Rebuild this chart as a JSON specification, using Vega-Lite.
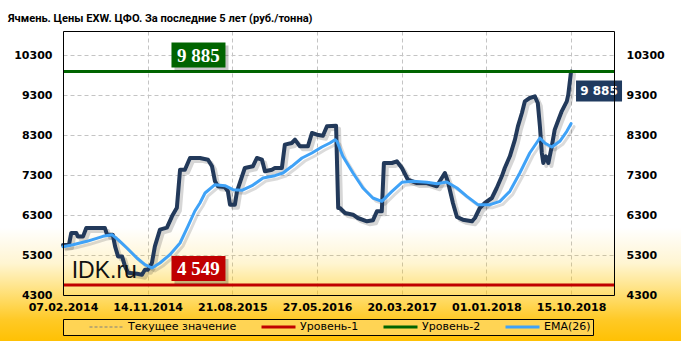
{
  "$schema": "https://vega.github.io/schema/vega-lite/v6.json",
  "width": 551,
  "height": 264,
  "autosize": {"type": "none"},
  "padding": {"left": 63, "top": 31, "right": 67, "bottom": 46},
  "background": "#ffffff",
  "title": {
    "text": "Ячмень. Цены EXW. ЦФО. За последние 5 лет (руб./тонна)",
    "anchor": "start", "frame": "group", "dx": -55, "offset": -2, "baseline": "alphabetic",
    "font": "Roboto", "fontSize": 11.1, "fontWeight": "bold", "color": "#000000"
  },
  "config": {
    "view": {"stroke": null},
    "axis": {
      "labelFont": "DejaVu Sans", "labelFontSize": 11, "labelFontWeight": "bold", "labelColor": "#000000",
      "ticks": false, "tickSize": 0, "title": null, "format": "d",
      "gridColor": "#c4c4c4", "gridDash": [4, 3], "gridWidth": 1,
      "domainColor": "#000000", "domainWidth": 1
    }
  },
  "datasets": {
    "price": [
      {"t":0,"v":5550},{"t":2.8,"v":5550},{"t":3.9,"v":5850},{"t":6.3,"v":5850},{"t":7,"v":5765},{"t":9.5,"v":5765},{"t":11,"v":5975},{"t":19.8,"v":5975},{"t":20.8,"v":5808},{"t":23.5,"v":5808},{"t":24.6,"v":5515},{"t":26,"v":5265},{"t":27.9,"v":5265},{"t":29.3,"v":5015},{"t":30.7,"v":4857},{"t":35,"v":4830},{"t":37.3,"v":4808},{"t":38.7,"v":4933},{"t":40.1,"v":4933},{"t":41.1,"v":5015},{"t":42,"v":5100},{"t":43.4,"v":5515},{"t":45.8,"v":5933},{"t":49.1,"v":5983},{"t":51.5,"v":6267},{"t":53.8,"v":6483},{"t":55.3,"v":7433},{"t":57.6,"v":7433},{"t":60,"v":7725},{"t":64.7,"v":7725},{"t":68.5,"v":7683},{"t":70.4,"v":7517},{"t":71.8,"v":7142},{"t":73.2,"v":7017},{"t":76.5,"v":7000},{"t":77.9,"v":6892},{"t":78.9,"v":6558},{"t":81.2,"v":6558},{"t":82.2,"v":6892},{"t":85.9,"v":7475},{"t":89.7,"v":7517},{"t":91.6,"v":7725},{"t":94,"v":7683},{"t":95.4,"v":7392},{"t":98.7,"v":7433},{"t":100.1,"v":7475},{"t":103.4,"v":7475},{"t":104.8,"v":8058},{"t":108.1,"v":8100},{"t":109.6,"v":8183},{"t":111.9,"v":8017},{"t":115.7,"v":8017},{"t":117.6,"v":8350},{"t":120,"v":8308},{"t":122.8,"v":8283},{"t":124.7,"v":8517},{"t":129,"v":8533},{"t":130,"v":6475},{"t":130.8,"v":6475},{"t":133.2,"v":6350},{"t":137,"v":6308},{"t":139.3,"v":6225},{"t":143.6,"v":6142},{"t":146.4,"v":6167},{"t":148.3,"v":6392},{"t":150.6,"v":6392},{"t":151.6,"v":7600},{"t":155.4,"v":7600},{"t":157.7,"v":7642},{"t":160.1,"v":7475},{"t":162.9,"v":7183},{"t":167.2,"v":7100},{"t":171.9,"v":7100},{"t":176.6,"v":7017},{"t":178,"v":7142},{"t":180.4,"v":7350},{"t":181.8,"v":7142},{"t":184.2,"v":6600},{"t":186.1,"v":6250},{"t":188.9,"v":6183},{"t":193.2,"v":6142},{"t":194.6,"v":6225},{"t":196.9,"v":6475},{"t":199.3,"v":6600},{"t":202.6,"v":6725},{"t":204.9,"v":6975},{"t":207.3,"v":7267},{"t":208.7,"v":7475},{"t":211.1,"v":7767},{"t":213.5,"v":8183},{"t":214.9,"v":8517},{"t":216.8,"v":8850},{"t":218.2,"v":9142},{"t":220.5,"v":9225},{"t":222.9,"v":9267},{"t":224.3,"v":9100},{"t":225.3,"v":8517},{"t":226.2,"v":7850},{"t":226.9,"v":7600},{"t":228.1,"v":7767},{"t":229.3,"v":7600},{"t":230.9,"v":8017},{"t":232.3,"v":8433},{"t":233.8,"v":8642},{"t":235.6,"v":8892},{"t":238,"v":9142},{"t":238.7,"v":9308},{"t":240,"v":9885}
    ],
    "ema": [
      {"t":0,"v":5508},{"t":4.7,"v":5558},{"t":11.3,"v":5642},{"t":18.9,"v":5767},{"t":23.1,"v":5808},{"t":26,"v":5683},{"t":30.2,"v":5475},{"t":34.9,"v":5225},{"t":38.7,"v":5058},{"t":42,"v":4975},{"t":45.8,"v":5100},{"t":50.5,"v":5308},{"t":55.3,"v":5600},{"t":59,"v":6017},{"t":62.3,"v":6400},{"t":64.7,"v":6600},{"t":67.1,"v":6850},{"t":71.8,"v":7058},{"t":76.5,"v":7033},{"t":80.3,"v":6933},{"t":84.5,"v":6917},{"t":89.3,"v":7033},{"t":94.5,"v":7225},{"t":100.1,"v":7283},{"t":103.9,"v":7350},{"t":108.1,"v":7517},{"t":112.9,"v":7725},{"t":117.6,"v":7850},{"t":122.3,"v":8000},{"t":126.1,"v":8100},{"t":128.5,"v":8183},{"t":129.4,"v":8142},{"t":132.2,"v":7767},{"t":137,"v":7350},{"t":141.7,"v":6975},{"t":146.4,"v":6725},{"t":150.6,"v":6642},{"t":155.4,"v":6892},{"t":160.1,"v":7117},{"t":165.3,"v":7142},{"t":171.9,"v":7117},{"t":176.6,"v":7083},{"t":181.3,"v":7125},{"t":186.1,"v":6975},{"t":190.8,"v":6767},{"t":196,"v":6558},{"t":201.7,"v":6558},{"t":206.4,"v":6642},{"t":211.1,"v":6892},{"t":215.8,"v":7350},{"t":220.5,"v":7850},{"t":225.3,"v":8225},{"t":227.6,"v":8100},{"t":230.9,"v":8000},{"t":234.7,"v":8142},{"t":238,"v":8392},{"t":240,"v":8583}
    ],
    "levels": [
      {"name": "Уровень-1", "v": 4549, "label": "4 549"},
      {"name": "Уровень-2", "v": 9885, "label": "9 885"}
    ],
    "current": [
      {"t": 240, "v": 9885, "label": "9 885"}
    ]
  },
  "resolve": {"axis": {"x": "independent", "y": "independent"}},
  "layer": [
    {
      "data": {"values": [{}]},
      "mark": {
        "type": "rect", "clip": false, "strokeWidth": 0,
        "fill": {
          "gradient": "linear", "x1": 0, "y1": 0, "x2": 0, "y2": 1,
          "stops": [
            {"offset": 0, "color": "rgba(255,192,0,0)"},
            {"offset": 0.26, "color": "rgba(255,192,0,0)"},
            {"offset": 0.49, "color": "rgba(255,200,0,0.18)"},
            {"offset": 0.69, "color": "rgba(255,196,0,0.55)"},
            {"offset": 0.85, "color": "rgba(255,192,0,0.85)"},
            {"offset": 1, "color": "rgba(255,192,0,1)"}
          ]
        }
      },
      "encoding": {
        "x": {"datum": -30, "type": "quantitative", "axis": {"orient": "top", "grid": false, "labels": false, "domain": true, "ticks": false, "zindex": 1}},
        "x2": {"datum": 292},
        "y": {"datum": 7000, "type": "quantitative", "axis": null},
        "y2": {"datum": 3100}
      }
    },
    {
      "data": {"name": "price"},
      "mark": {"type": "line", "color": "#000000", "opacity": 0.16, "strokeWidth": 4, "strokeJoin": "round", "strokeCap": "round"},
      "encoding": {
        "x": {"field": "t", "type": "quantitative", "axis": null},
        "y": {"field": "v", "type": "quantitative", "axis": null},
        "xOffset": {"value": 3},
        "yOffset": {"value": 3}
      }
    },
    {
      "data": {"name": "ema"},
      "mark": {"type": "line", "color": "#000000", "opacity": 0.14, "strokeWidth": 3, "strokeJoin": "round", "strokeCap": "round"},
      "encoding": {
        "x": {"field": "t", "type": "quantitative", "axis": null},
        "y": {"field": "v", "type": "quantitative", "axis": null},
        "xOffset": {"value": 3},
        "yOffset": {"value": 3}
      }
    },
    {
      "data": {"name": "price"},
      "mark": {"type": "line", "color": "#22395A", "strokeWidth": 4, "strokeJoin": "round", "strokeCap": "round"},
      "encoding": {
        "x": {"field": "t", "type": "quantitative", "scale": {"domain": [0, 260.3], "nice": false, "zero": false},
              "axis": {"orient": "bottom", "grid": true, "labels": false, "domain": false, "ticks": false, "values": [0, 40, 80, 120, 160, 200, 240], "zindex": 0}},
        "y": {"field": "v", "type": "quantitative", "scale": {"domain": [4300, 10900], "nice": false, "zero": false},
              "axis": {"orient": "left", "grid": true, "labels": false, "domain": false, "ticks": false, "values": [4300, 5300, 6300, 7300, 8300, 9300, 10300], "zindex": 0}}
      }
    },
    {
      "data": {"name": "ema"},
      "mark": {"type": "line", "strokeWidth": 3, "strokeJoin": "round", "strokeCap": "round"},
      "encoding": {
        "x": {"field": "t", "type": "quantitative",
              "axis": {"orient": "bottom", "grid": false, "labels": true, "domain": true, "values": [0, 40, 80, 120, 160, 200, 240],
                       "labelExpr": "['07.02.2014','14.11.2014','21.08.2015','27.05.2016','20.03.2017','01.01.2018','15.10.2018'][round(datum.value/40)]",
                       "labelPadding": 6, "labelFlush": false, "labelOverlap": false, "zindex": 1}},
        "y": {"field": "v", "type": "quantitative",
              "axis": {"orient": "left", "grid": false, "domain": true, "values": [4300, 5300, 6300, 7300, 8300, 9300, 10300], "labelPadding": 11, "zindex": 1}},
        "color": {"datum": "EMA(26)"}
      }
    },
    {
      "data": {"name": "levels"},
      "mark": {"type": "rule", "strokeWidth": 3},
      "encoding": {
        "y": {"field": "v", "type": "quantitative",
              "axis": {"orient": "right", "grid": false, "domain": true, "values": [4300, 5300, 6300, 7300, 8300, 9300, 10300], "labelPadding": 12, "zindex": 1}},
        "color": {
          "field": "name", "type": "nominal",
          "scale": {"domain": ["Текущее значение", "Уровень-1", "Уровень-2", "EMA(26)"], "range": ["#7f7f7f", "#C00000", "#006400", "#3FA2F7"]},
          "legend": {
            "orient": "none", "legendX": 0, "legendY": 288, "direction": "horizontal",
            "title": "\u00a0", "titleOrient": "left", "titlePadding": 19, "titleFontSize": 11,
            "symbolType": "stroke", "symbolSize": 1156, "symbolStrokeWidth": 3, "clipHeight": 12,
            "symbolOffset": 17,
            "labelFont": "DejaVu Sans", "labelFontSize": 11, "labelColor": "#000000", "labelOffset": 16,
            "columnPadding": 19, "padding": 2, "fillColor": "#FFD454", "strokeColor": "#000000",
            "labelExpr": "datum.value === 'EMA(26)' ? datum.label + '\u00a0\u00a0\u00a0\u00a0\u00a0\u00a0\u00a0\u00a0\u00a0\u00a0' : datum.label",
            "encode": {"symbols": {"update": {
              "strokeDash": {"signal": "datum.value === 'Текущее значение' ? [3,2] : []"},
              "strokeWidth": {"signal": "datum.value === 'Текущее значение' ? 1 : 3"}
            }}}
          }
        }
      }
    },
    {
      "data": {"name": "levels"},
      "mark": {"type": "point", "shape": "M-24,-26H30V-1H-24Z", "size": 4, "filled": true, "fill": "#000000", "opacity": 0.22, "strokeWidth": 0},
      "encoding": {
        "x": {"datum": 64, "type": "quantitative", "axis": null},
        "y": {"field": "v", "type": "quantitative", "axis": null}
      }
    },
    {
      "data": {"name": "levels"},
      "mark": {"type": "point", "shape": "M-27,-29H27V-4H-27Z", "size": 4, "filled": true, "opacity": 1, "strokeWidth": 0},
      "encoding": {
        "x": {"datum": 64, "type": "quantitative", "axis": null},
        "y": {"field": "v", "type": "quantitative", "axis": null},
        "fill": {"field": "name", "type": "nominal", "scale": {"domain": ["Уровень-1", "Уровень-2"], "range": ["#C00000", "#006400"]}, "legend": null}
      }
    },
    {
      "data": {"name": "levels"},
      "mark": {"type": "text", "font": "Liberation Serif", "fontSize": 19, "fontWeight": "bold", "color": "#ffffff", "align": "center", "baseline": "middle", "dy": -16},
      "encoding": {
        "x": {"datum": 64, "type": "quantitative", "axis": null},
        "y": {"field": "v", "type": "quantitative", "axis": null},
        "text": {"field": "label"}
      }
    },
    {
      "data": {"name": "current"},
      "mark": {"type": "point", "shape": "M5,9H51V30H5Z", "size": 4, "filled": true, "fill": "#1F3A5F", "opacity": 1, "strokeWidth": 0},
      "encoding": {
        "x": {"field": "t", "type": "quantitative", "axis": null},
        "y": {"field": "v", "type": "quantitative", "axis": null}
      }
    },
    {
      "data": {"name": "current"},
      "mark": {"type": "text", "font": "DejaVu Sans", "fontSize": 12, "fontWeight": "bold", "color": "#ffffff", "align": "center", "baseline": "middle", "dx": 28, "dy": 19.5},
      "encoding": {
        "x": {"field": "t", "type": "quantitative", "axis": null},
        "y": {"field": "v", "type": "quantitative", "axis": null},
        "text": {"field": "label"}
      }
    },
    {
      "data": {"values": [{}]},
      "mark": {"type": "text", "text": "IDK.ru", "font": "Liberation Sans", "fontSize": 23, "align": "left", "baseline": "alphabetic", "color": "#111111"},
      "encoding": {
        "x": {"datum": 4.1, "type": "quantitative", "axis": null},
        "y": {"datum": 4725, "type": "quantitative", "axis": null}
      }
    }
  ]
}
